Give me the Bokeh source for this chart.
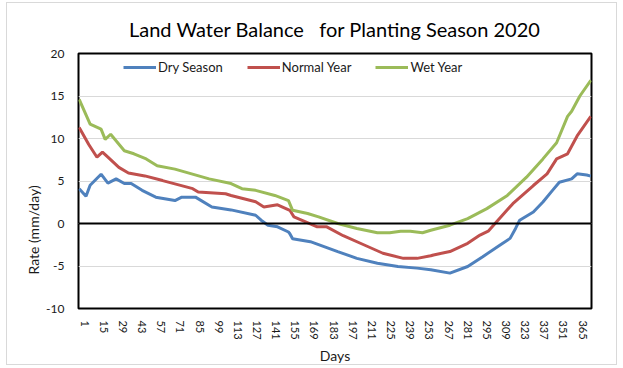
from bokeh.plotting import figure
from bokeh.models import Range1d, FixedTicker, Span, Legend, LegendItem, PrintfTickFormatter, Title
from bokeh.embed import file_html
from bokeh.resources import INLINE

# ---- data ----
dry_days = [-3, 2, 5, 13, 18, 24, 30, 35, 43, 53, 67, 72, 82, 94, 108, 126, 130, 135, 142, 150,
            151, 153, 166, 186, 200, 215, 230, 244, 254, 268, 281, 292, 305, 312, 316, 319, 329,
            336, 343, 348, 357, 361, 368, 371]
dry_vals = [4.1, 3.2, 4.5, 5.8, 4.75, 5.25, 4.7, 4.7, 3.9, 3.1, 2.7, 3.1, 3.1, 1.95, 1.6, 0.97, 0.39,
            -0.2, -0.39, -1.0, -1.2, -1.8, -2.14, -3.3, -4.1, -4.67, -5.06, -5.25, -5.45, -5.84,
            -5.06, -3.9, -2.5, -1.75, -0.58, 0.39, 1.36, 2.53, 3.9, 4.86, 5.25, 5.84, 5.7, 5.57]

normal_days = [-3, 4, 10, 14, 18, 26, 33, 45, 58, 80, 84, 104, 108, 126, 132, 142, 151, 154, 171,
               178, 190, 205, 219, 234, 244, 254, 256, 268, 281, 290, 296, 301, 314, 329, 339, 346,
               354, 361, 371]
normal_vals = [11.3, 9.3, 7.8, 8.4, 7.8, 6.6, 5.95, 5.6, 5.05, 4.1, 3.7, 3.5, 3.3, 2.55, 1.95, 2.2,
               1.55, 0.78, -0.39, -0.39, -1.44, -2.5, -3.5, -4.1, -4.1, -3.8, -3.7, -3.3, -2.33,
               -1.36, -0.9, 0.0, 2.33, 4.47, 5.84, 7.6, 8.2, 10.3, 12.6]

wet_days = [-3, 5, 13, 16, 20, 30, 37, 46, 54, 67, 92, 108, 116, 126, 140, 150, 153, 164, 172, 186,
            200, 215, 224, 232, 239, 248, 254, 268, 281, 295, 310, 324, 336, 346, 354, 357, 363, 371]
wet_vals = [14.6, 11.7, 11.1, 9.9, 10.5, 8.56, 8.2, 7.6, 6.8, 6.4, 5.25, 4.7, 4.1, 3.9, 3.3, 2.7,
            1.55, 1.17, 0.78, 0.0, -0.58, -1.09, -1.09, -0.9, -0.9, -1.09, -0.8, -0.2, 0.58, 1.75,
            3.3, 5.45, 7.6, 9.5, 12.6, 13.2, 15.0, 16.85]

series_names = ["Dry Season", "Normal Year", "Wet Year"]
series_colors = ["#4F81BD", "#C0504D", "#9BBB59"]
day_ticks = list(range(1, 366, 14))
rate_ticks = [-10, -5, 0, 5, 10, 15, 20]

FONT = "Lato"
NB = "\u00a0"

p = figure(width=611, height=363, output_backend="svg", toolbar_location=None,
           x_range=Range1d(-3.5, 371.5), y_range=Range1d(-10, 20),
           min_border_left=71, min_border_right=27, min_border_top=50, min_border_bottom=56,
           title="Land Water Balance" + NB * 3 + "for Planting Season 2020")
p.styles = {"border": "1px solid #d9d9d9", "margin-left": "6px", "margin-top": "2px"}

p.title.align = "center"
p.title.text_font = FONT
p.title.text_font_size = "20px"
p.title.text_font_style = "normal"
p.title.text_color = "#000000"
p.title.offset = -4

# thin spacer between title and plot area (lifts the title as in the reference)
p.above.insert(0, Title(text=NB, text_font_size="6px", standoff=0))

p.outline_line_color = "black"
p.outline_line_width = 2
p.outline_line_alpha = 1

p.xgrid.visible = False
p.ygrid.grid_line_color = "#d9d9d9"
p.ygrid.grid_line_width = 1

p.xaxis.ticker = FixedTicker(ticks=day_ticks)
p.yaxis.ticker = FixedTicker(ticks=rate_ticks)
p.yaxis.formatter = PrintfTickFormatter(format="%d")
for ax in (p.xaxis[0], p.yaxis[0]):
    ax.axis_line_color = None
    ax.major_tick_line_color = None
    ax.minor_tick_line_color = None
    ax.major_label_text_font = FONT
    ax.major_label_text_color = "#1a1a1a"
    ax.axis_label_text_font = FONT
    ax.axis_label_text_font_style = "normal"
    ax.axis_label_text_font_size = "14px"
    ax.axis_label_text_color = "#1a1a1a"

p.xaxis.major_label_orientation = "vertical"
p.xaxis.major_label_text_font_size = "11px"
p.yaxis.major_label_text_font_size = "12px"
p.xaxis.axis_label = "Days"
p.xaxis.major_label_standoff = 6
p.yaxis.major_label_standoff = 8
p.xaxis.axis_label_standoff = 4

# y-axis title, placed below the frame centre as in the reference
ytitle = Title(text="Rate (mm/day)", align="left", offset=34, standoff=4,
               text_font=FONT, text_font_size="14px", text_font_style="normal",
               text_color="#1a1a1a")
p.add_layout(ytitle, "left")

p.add_layout(Span(location=0, dimension="width", line_color="black", line_width=2))

r_dry = p.line(dry_days, dry_vals, line_color=series_colors[0], line_width=3)
r_norm = p.line(normal_days, normal_vals, line_color=series_colors[1], line_width=3)
r_wet = p.line(wet_days, wet_vals, line_color=series_colors[2], line_width=3)

legend = Legend(items=[LegendItem(label=series_names[0], renderers=[r_dry]),
                       LegendItem(label=series_names[1], renderers=[r_norm]),
                       LegendItem(label=series_names[2], renderers=[r_wet])],
                orientation="horizontal", location=(45, 233),
                glyph_width=33, glyph_height=14, label_height=14, label_standoff=2,
                spacing=24, padding=2, margin=0,
                label_text_font=FONT, label_text_font_size="13px", label_text_color="#1a1a1a",
                border_line_color=None, background_fill_alpha=0)
p.add_layout(legend, "center")

open("out.html", "w").write(file_html(p, INLINE))
